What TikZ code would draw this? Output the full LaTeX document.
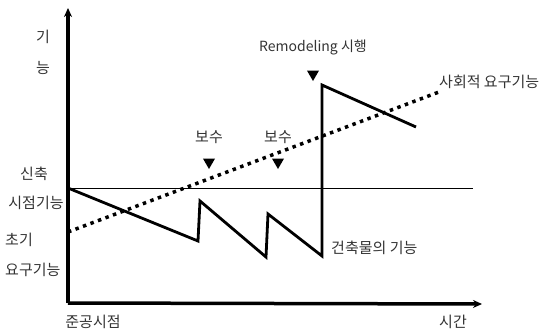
\documentclass[tikz,border=0pt]{standalone}
\usepackage{fontspec}
\setmainfont{Noto Sans CJK KR}
\usetikzlibrary{arrows.meta,positioning,shapes.geometric}

\tikzset{
  lbl/.style={font=\fontsize{15}{17}\selectfont,inner sep=0pt,text=black!80},
  marker/.style={regular polygon,regular polygon sides=3,shape border rotate=180,
                 fill=black,inner sep=0pt,minimum size=14pt},
  axisline/.style={line width=3.5pt,-{Stealth[length=9pt,width=8pt]}},
  sawline/.style={line width=2.8pt,line join=miter},
  demandline/.style={line width=3.5pt,dash pattern=on 3.5pt off 4.5pt}
}

\begin{document}
\begin{tikzpicture}[x=1pt,y=-1pt]
    \useasboundingbox (0,0) rectangle (547,332);

    % axes
    \coordinate (origin) at (68,303);
    \coordinate (ytop)   at (68,8);
    \coordinate (xend)   at (482,304);
    \draw[axisline] (origin) -- (ytop);
    \draw[axisline] (origin) -- (xend);

    % level at completion
    \coordinate (lvlL) at (68,188);
    \coordinate (lvlR) at (473,188);
    \draw[line width=0.9pt] (lvlL) -- (lvlR);

    % social demand
    \coordinate (demS) at (68,232);
    \coordinate (demE) at (439,92);
    \draw[demandline] (demS) -- (demE);

    % building performance
    \coordinate (p0) at (68,188);
    \coordinate (p1) at (198,241);
    \coordinate (p2) at (200,201);
    \coordinate (p3) at (266,257);
    \coordinate (p4) at (268,214);
    \coordinate (p5) at (322,256);
    \coordinate (p6) at (322,85);
    \coordinate (p7) at (416,127);
    \draw[sawline] (p0) -- (p1) -- (p2) -- (p3) -- (p4) -- (p5) -- (p6) -- (p7);

    % markers
    \node[marker] (m1) at (209,162) {};
    \node[marker] (m2) at (278,162) {};
    \node[marker] (m3) at (313,74) {};
    \node[lbl,above=14pt of m1] (rep1) {보수};
    \node[lbl,above=14pt of m2] (rep2) {보수};
    \node[lbl,above=15pt of m3,font=\fontsize{14}{16}\selectfont] (remod) {Remodeling 시행};

    % labels
    \node[lbl] (yl1) at (43,37) {기};
    \node[lbl] (yl2) at (43,68) {능};
    \node[lbl] (new1) at (34,174) {신축};
    \node[lbl] (new2) at (36,203) {시점기능};
    \node[lbl,anchor=west] (ini1) at (5,240) {초기};
    \node[lbl,anchor=west] (ini2) at (5,270) {요구기능};
    \node[lbl] (done) at (93,322) {준공시점};
    \node[lbl] (time) at (453,322) {시간};
    \node[lbl,anchor=west] (perf) at (331,248) {건축물의 기능};
    \node[lbl,anchor=west] (soc) at (439,82) {사회적 요구기능};
  \end{tikzpicture}
\end{document}
